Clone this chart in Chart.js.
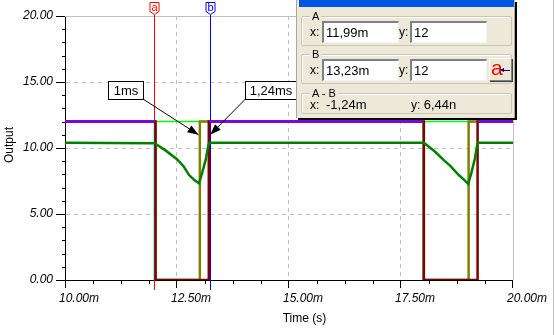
<!DOCTYPE html>
<html lang="en">
<head>
<meta charset="UTF-8">
<title>Output x Time</title>
<script src="https://cdn.jsdelivr.net/npm/chart.js"></script>
<style>
    body { margin: 0; background: #fff; }
    #wrap { position: relative; width: 556px; height: 335px; overflow: hidden; }
    #grafico { position: absolute; left: 0; top: 0; }

    .painel {
        position: absolute; left: 296px; top: 0; width: 219px; height: 118px;
        background: #ece9d8; border-left: 1px solid #aca899; border-right: 1px solid #aca899;
        box-sizing: border-box; box-shadow: 2px 2px 0 #000;
        font-family: "Liberation Sans", Arial, sans-serif; color: #000;
    }
    .barra { position: absolute; left: 2px; top: 0; width: 215px; height: 7px; background: #0055e5; }
    .grupo { position: absolute; left: 4px; width: 211px; box-sizing: border-box;
        border: 1px solid #c9c6b6; border-radius: 2px; box-shadow: 1px 1px 0 #fff inset; }
    .leg { position: absolute; left: 8px; top: -7px; background: #ece9d8; padding: 0 2px;
        font-size: 11px; line-height: 12px; }
    .rot { position: absolute; font-size: 12px; line-height: 14px; }
    .caixa { position: absolute; width: 77px; height: 22px; box-sizing: border-box; background: #fff;
        border-top: 2px solid #808080; border-left: 2px solid #808080;
        border-right: 1px solid #f4f3ee; border-bottom: 1px solid #f4f3ee;
        font-size: 13px; line-height: 19px; padding-left: 2px; }
    .botao { position: absolute; left: 192px; top: 58px; width: 23px; height: 23px; box-sizing: border-box;
        background: #ece9d8; border-top: 1px solid #fff; border-left: 1px solid #fff;
        border-right: 1px solid #808080; border-bottom: 1px solid #808080; box-shadow: 1px 1px 0 #404040; }
    .botao .le { position: absolute; left: 1px; top: -4px; color: #ff0000; font-size: 21px; line-height: 26px; }
    .botao .haste { position: absolute; left: 13px; top: 11px; width: 7px; height: 1px; background: #000080; }
    .botao .ponta { position: absolute; left: 10px; top: 9px; width: 0; height: 0;
        border-top: 2.5px solid transparent; border-bottom: 2.5px solid transparent; border-right: 4px solid #000080; }
</style>
</head>

<body>
<div id="wrap">
    <canvas id="grafico" width="556" height="335"></canvas>

    <div class="painel">
        <div class="barra"></div>

        <div class="grupo" style="top:16px;height:30px"><span class="leg">A</span></div>
        <span class="rot" style="left:13px;top:25px">x:</span>
        <div class="caixa" style="left:25px;top:21px">11,99m</div>
        <span class="rot" style="left:102px;top:25px">y:</span>
        <div class="caixa" style="left:113px;top:21px">12</div>

        <div class="grupo" style="top:54px;height:30px"><span class="leg">B</span></div>
        <span class="rot" style="left:13px;top:63px">x:</span>
        <div class="caixa" style="left:25px;top:59px">13,23m</div>
        <span class="rot" style="left:102px;top:63px">y:</span>
        <div class="caixa" style="left:113px;top:59px">12</div>
        <div class="botao"><span class="le">a</span><span class="ponta"></span><span class="haste"></span></div>

        <div class="grupo" style="top:93px;height:21px"><span class="leg">A - B</span></div>
        <span class="rot" style="left:13px;top:98px">x:&nbsp; <span style="font-size:13px">-1,24m</span></span>
        <span class="rot" style="left:114px;top:98px">y: <span style="font-size:13px">6,44n</span></span>
    </div>
</div>

<script>
// eixos (tempo em ms)
var xTicks = [10, 12.5, 15, 17.5, 20];
var xLabels = ['10.00m', '12.50m', '15.00m', '17.50m', '20.00m'];
var yTicks = [0, 5, 10, 15, 20];
var yLabels = ['0.00', '5.00', '10.00', '15.00', '20.00'];

// curvas
var tVerdeClaro = [10, 20];
var vVerdeClaro = [12, 12];

var tCiano = [10, 11.98, 11.98, 13.21, 13.21, 17.99, 17.99, 19.21, 19.21, 20];
var vCiano = [12, 12, 0, 0, 12, 12, 0, 0, 12, 12];

var tOliva = [10, 12.02, 12.02, 13.01, 13.01, 18.01, 18.01, 19.01, 19.01, 20];
var vOliva = [12, 12, 0, 0, 12, 12, 0, 0, 12, 12];

var tVinho = [10, 12.02, 12.02, 13.21, 13.21, 18.01, 18.01, 19.21, 19.21, 20];
var vVinho = [12, 12, 0, 0, 12, 12, 0, 0, 12, 12];

var tVerde = [10, 12.0, 12.25, 12.5, 12.65, 12.77, 12.88, 12.99, 13.06, 13.14, 13.2, 13.22,
              18.01, 18.25, 18.45, 18.6, 18.79, 18.9, 19.0, 19.07, 19.15, 19.2, 19.22, 20];
var vVerde = [10.4, 10.36, 9.8, 9.15, 8.6, 7.95, 7.6, 7.33, 8.1, 9.1, 10.2, 10.4,
              10.4, 9.75, 9.1, 8.65, 7.95, 7.62, 7.28, 8.1, 9.2, 10.2, 10.4, 10.4];

var tRoxo = [10, 12.0, 12.0, 13.22, 18.0, 18.0, 19.22, 20];
var vRoxo = [12, 12, null, 12, 12, null, 12, 12];

// cursores e anotacoes
var cursorA = 11.99;
var cursorB = 13.23;
var pontaSeta1 = [12.98, 11.0];
var pontaSeta2 = [13.24, 11.0];

function pontos(t, v) {
    return t.map(function (x, i) { return { x: x, y: v[i] }; });
}

var fonteTicks = { family: '"Liberation Sans", Arial, sans-serif', size: 12, style: 'italic' };

function desenhaCursor(ctx, px, cor) {
    ctx.save();
    ctx.strokeStyle = cor;
    ctx.lineWidth = 1;
    ctx.beginPath();
    ctx.moveTo(px, 15);
    ctx.lineTo(px, 290);
    ctx.stroke();
    ctx.restore();
}

function marcaCursor(ctx, px, cor, letra) {
    ctx.save();
    ctx.fillStyle = '#fff';
    ctx.strokeStyle = cor;
    ctx.lineWidth = 1;
    ctx.beginPath();
    ctx.moveTo(px - 4.5, 2.5);
    ctx.lineTo(px + 4.5, 2.5);
    ctx.lineTo(px + 4.5, 11.5);
    ctx.lineTo(px, 14.5);
    ctx.lineTo(px - 4.5, 11.5);
    ctx.closePath();
    ctx.fill();
    ctx.stroke();
    ctx.fillStyle = cor;
    ctx.font = '11px "Liberation Sans", Arial, sans-serif';
    ctx.textAlign = 'center';
    ctx.textBaseline = 'middle';
    ctx.fillText(letra, px, 7.5);
    ctx.restore();
}

function seta(ctx, x1, y1, x2, y2) {
    var ang = Math.atan2(y2 - y1, x2 - x1);
    ctx.beginPath();
    ctx.moveTo(x1, y1);
    ctx.lineTo(x2, y2);
    ctx.stroke();
    ctx.beginPath();
    ctx.moveTo(x2, y2);
    ctx.lineTo(x2 - 11 * Math.cos(ang) + 4 * Math.sin(ang), y2 - 11 * Math.sin(ang) - 4 * Math.cos(ang));
    ctx.lineTo(x2 - 11 * Math.cos(ang) - 4 * Math.sin(ang), y2 - 11 * Math.sin(ang) + 4 * Math.cos(ang));
    ctx.closePath();
    ctx.fill();
}

function caixaTexto(ctx, x1, y1, x2, y2, texto) {
    ctx.fillStyle = '#fff';
    ctx.fillRect(x1, y1, x2 - x1, y2 - y1);
    ctx.strokeRect(x1, y1, x2 - x1, y2 - y1);
    ctx.fillStyle = '#000';
    ctx.fillText(texto, (x1 + x2) / 2, (y1 + y2) / 2 + 1);
}

const decor = {
    id: 'decor',
    beforeDatasetsDraw(chart) {
        const ctx = chart.ctx;
        const x = chart.scales.x, y = chart.scales.y;
        const area = chart.chartArea;

        // borda superior e direita (cinza)
        ctx.save();
        ctx.strokeStyle = '#c0c0c0';
        ctx.lineWidth = 1;
        ctx.beginPath();
        ctx.moveTo(area.left, Math.round(y.getPixelForValue(20)) + 0.5);
        ctx.lineTo(area.right, Math.round(y.getPixelForValue(20)) + 0.5);
        ctx.moveTo(Math.round(x.getPixelForValue(20)) + 0.5, area.top);
        ctx.lineTo(Math.round(x.getPixelForValue(20)) + 0.5, area.bottom);
        ctx.moveTo(553.5, 0);
        ctx.lineTo(553.5, 335);
        ctx.stroke();

        // ticks menores
        ctx.strokeStyle = '#000';
        ctx.beginPath();
        for (let v = 10.625; v < 20; v += 0.625) {
            if (Math.abs(v / 2.5 - Math.round(v / 2.5)) < 0.01) continue;
            const px = Math.round(x.getPixelForValue(v)) + 0.5;
            ctx.moveTo(px, area.bottom);
            ctx.lineTo(px, area.bottom + 4);
        }
        for (let v = 1; v < 20; v++) {
            if (v % 5 === 0) continue;
            const py = Math.round(y.getPixelForValue(v)) + 0.5;
            ctx.moveTo(area.left - 3, py);
            ctx.lineTo(area.left, py);
        }
        ctx.stroke();
        ctx.restore();

        desenhaCursor(ctx, Math.round(x.getPixelForValue(cursorA)) + 0.5, '#ff0000');
        desenhaCursor(ctx, Math.round(x.getPixelForValue(cursorB)) + 0.5, '#0000ff');
    },
    afterDraw(chart) {
        const ctx = chart.ctx;
        const x = chart.scales.x, y = chart.scales.y;
        const area = chart.chartArea;

        marcaCursor(ctx, Math.round(x.getPixelForValue(cursorA)) + 0.5, '#ff0000', 'a');
        marcaCursor(ctx, Math.round(x.getPixelForValue(cursorB)) + 0.5, '#0000ff', 'b');

        ctx.save();
        ctx.strokeStyle = '#000';
        ctx.fillStyle = '#000';
        ctx.lineWidth = 1;
        seta(ctx, 143, 99, x.getPixelForValue(pontaSeta1[0]), y.getPixelForValue(pontaSeta1[1]));
        seta(ctx, 245.5, 99, x.getPixelForValue(pontaSeta2[0]), y.getPixelForValue(pontaSeta2[1]));

        ctx.font = '13px "Liberation Sans", Arial, sans-serif';
        ctx.textAlign = 'center';
        ctx.textBaseline = 'middle';
        caixaTexto(ctx, 108.5, 81.5, 143.5, 99.5, '1ms');
        caixaTexto(ctx, 245.5, 81.5, 296.5, 99.5, '1,24ms');

        // titulos dos eixos
        ctx.font = '12px "Liberation Sans", Arial, sans-serif';
        ctx.fillText('Time (s)', 304.5, 318.5);
        ctx.translate(10, (area.top + area.bottom) / 2 - 3);
        ctx.rotate(-Math.PI / 2);
        ctx.fillText('Output', 0, 0);
        ctx.restore();
    }
};

const ctx = document.getElementById('grafico');

new Chart(ctx, {
    type: 'line',
    data: {
        datasets: [
            { data: pontos(tRoxo, vRoxo), borderColor: '#8000ff', borderWidth: 2.5, spanGaps: false, order: 1 },
            { data: pontos(tVerde, vVerde), borderColor: '#008000', borderWidth: 2.5, order: 2 },
            { data: pontos(tVinho, vVinho), borderColor: '#800000', borderWidth: 2.5, order: 3 },
            { data: pontos(tOliva, vOliva), borderColor: '#808000', borderWidth: 2.5, order: 4 },
            { data: pontos(tCiano, vCiano), borderColor: '#80ffff', borderWidth: 1, order: 5 },
            { data: pontos(tVerdeClaro, vVerdeClaro), borderColor: '#00ff00', borderWidth: 1.5, order: 6 }
        ]
    },
    options: {
        responsive: false,
        animation: false,
        events: [],
        elements: { point: { radius: 0 }, line: { tension: 0, borderJoinStyle: 'miter' } },
        layout: { padding: { left: 0, top: 16, right: 40, bottom: 0 } },
        plugins: { legend: { display: false }, tooltip: { enabled: false } },
        scales: {
            x: {
                type: 'linear', min: 10, max: 20,
                afterFit: function (s) { s.height = 55; },
                afterBuildTicks: function (s) { s.ticks = xTicks.map(function (v) { return { value: v }; }); },
                ticks: {
                    callback: function (v, i) { return xLabels[i]; },
                    font: fonteTicks, color: '#000', align: 'start', labelOffset: -6,
                    padding: 3, maxRotation: 0, autoSkip: false
                },
                grid: {
                    color: function (c) { return (c.tick && (c.tick.value === 10 || c.tick.value === 20)) ? 'rgba(0,0,0,0)' : '#c0c0c0'; },
                    borderDash: [4, 4],
                    tickColor: '#000', tickLength: 8, lineWidth: 1
                },
                border: { color: '#000', width: 1, dash: [4, 4] }
            },
            y: {
                min: 0, max: 20,
                afterFit: function (s) { s.width = 65; },
                afterBuildTicks: function (s) { s.ticks = yTicks.map(function (v) { return { value: v }; }); },
                ticks: {
                    callback: function (v, i) { return yLabels[i]; },
                    font: fonteTicks, color: '#000', padding: 3, autoSkip: false
                },
                grid: {
                    color: function (c) { return (c.tick && (c.tick.value === 0 || c.tick.value === 20)) ? 'rgba(0,0,0,0)' : '#c0c0c0'; },
                    borderDash: [4, 4],
                    tickColor: '#000', tickLength: 9, lineWidth: 1
                },
                border: { color: '#000', width: 1, dash: [4, 4] }
            }
        }
    },
    plugins: [decor]
});
</script>
</body>
</html>
